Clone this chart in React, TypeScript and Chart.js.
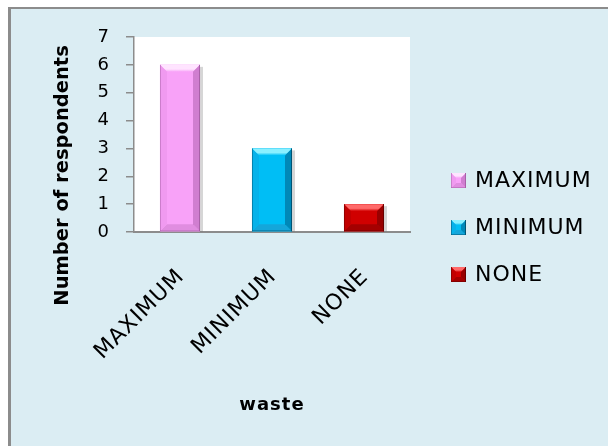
import React, { useEffect, useRef } from "react";
import { Chart, registerables } from "chart.js";

Chart.register(...registerables);

// Survey answers about waste
const categories = ["MAXIMUM", "MINIMUM", "NONE"];
const respondents = [6, 3, 1];
const yTickValues = [0, 1, 2, 3, 4, 5, 6, 7];
const xAxisTitle = "waste";
const yAxisTitle = "Number of respondents";

// Bevelled bar palette: face, lit top, shaded bottom, left side, right side, outline
const faceColors = ["#F8A2F8", "#00BEF5", "#D00000"];
const topColors = ["#FFE4FF", "#8AF0FF", "#FF6A6A"];
const bottomColors = ["#E08DE0", "#14A6DA", "#A40000"];
const leftColors = ["#F09AF0", "#06B2EA", "#C20000"];
const rightColors = ["#D07ED0", "#0088B8", "#980000"];
const edgeColors = ["#A860A8", "#005474", "#680000"];

const FONT = "'DejaVu Sans', sans-serif";
const SPACING = "1px";

function drawBevel(
  ctx: CanvasRenderingContext2D,
  L: number,
  T: number,
  R: number,
  B: number,
  b: number,
  i: number
) {
  const poly = (pts: number[][], color: string | CanvasGradient) => {
    ctx.beginPath();
    ctx.moveTo(pts[0][0], pts[0][1]);
    for (let k = 1; k < pts.length; k++) ctx.lineTo(pts[k][0], pts[k][1]);
    ctx.closePath();
    ctx.fillStyle = color;
    ctx.fill();
  };
  ctx.save();
  ctx.fillStyle = faceColors[i];
  ctx.fillRect(L, T, R - L, B - T);
  const g = ctx.createLinearGradient(0, T, 0, T + b);
  g.addColorStop(0, topColors[i]);
  g.addColorStop(0.6, topColors[i]);
  g.addColorStop(1, faceColors[i]);
  poly([[L, T], [R, T], [R - b, T + b], [L + b, T + b]], g);
  poly([[L, B], [R, B], [R - b, B - b], [L + b, B - b]], bottomColors[i]);
  poly([[L, T], [L + b, T + b], [L + b, B - b], [L, B]], leftColors[i]);
  poly([[R, T], [R - b, T + b], [R - b, B - b], [R, B]], rightColors[i]);
  ctx.strokeStyle = edgeColors[i];
  ctx.lineWidth = 1;
  ctx.beginPath();
  ctx.moveTo(R - 0.5, T);
  ctx.lineTo(R - 0.5, B);
  ctx.stroke();
  ctx.globalAlpha = 0.5;
  ctx.beginPath();
  ctx.moveTo(L + 0.5, T);
  ctx.lineTo(L + 0.5, B);
  ctx.moveTo(L, B - 0.5);
  ctx.lineTo(R, B - 0.5);
  ctx.stroke();
  ctx.restore();
}

// Slightly wider text tracking for the labels the chart measures and draws
const textTracking = {
  id: "textTracking",
  beforeUpdate(chart: any) {
    chart.ctx.letterSpacing = SPACING;
  },
  beforeDraw(chart: any) {
    chart.ctx.letterSpacing = SPACING;
  },
};

const plotBackground = {
  id: "plotBackground",
  beforeDraw(chart: any) {
    const { ctx, chartArea } = chart;
    ctx.save();
    ctx.fillStyle = "#FFFFFF";
    ctx.fillRect(chartArea.left, chartArea.top, chartArea.right - chartArea.left, chartArea.bottom - chartArea.top);
    ctx.restore();
  },
};

const bevelBars = {
  id: "bevelBars",
  afterDatasetsDraw(chart: any) {
    const { ctx } = chart;
    const meta = chart.getDatasetMeta(0);
    meta.data.forEach((bar: any, i: number) => {
      const { x, y, base, width } = bar.getProps(["x", "y", "base", "width"], true);
      const L = x - width / 2;
      const R = x + width / 2;
      // soft shadow on the right side of each bar
      ctx.save();
      ctx.fillStyle = "rgba(0,0,0,0.16)";
      ctx.fillRect(R, y + 2, 3, base - y - 2);
      ctx.restore();
      const b = Math.min(7, width / 4, (base - y) / 3);
      drawBevel(ctx, L, y, R, base, b, i);
    });
  },
};

const sideLegend = {
  id: "sideLegend",
  afterDraw(chart: any) {
    const { ctx, chartArea, height } = chart;
    const box = 15;
    const gap = 47;
    const x0 = chartArea.right + 41;
    const mid = height / 2;
    ctx.save();
    ctx.font = `22px ${FONT}`;
    ctx.letterSpacing = SPACING;
    ctx.textBaseline = "middle";
    ctx.textAlign = "left";
    categories.forEach((label, i) => {
      const cy = mid + (i - (categories.length - 1) / 2) * gap;
      drawBevel(ctx, x0, cy - box / 2, x0 + box, cy + box / 2, 5, i);
      ctx.fillStyle = "#000";
      ctx.fillText(label, x0 + box + 9, cy + 1);
    });
    ctx.restore();
  },
};

const sideTitle = {
  id: "sideTitle",
  afterDraw(chart: any) {
    const { ctx, chartArea } = chart;
    const cy = chartArea.top + (chartArea.bottom - chartArea.top) * 0.71;
    ctx.save();
    ctx.translate(52, cy);
    ctx.rotate(-Math.PI / 2);
    ctx.font = `bold 19.5px ${FONT}`;
    ctx.letterSpacing = "0px";
    ctx.fillStyle = "#000";
    ctx.textAlign = "center";
    ctx.textBaseline = "middle";
    ctx.fillText(yAxisTitle, 0, 0);
    ctx.restore();
  },
};

export default function App() {
  const canvasRef = useRef<HTMLCanvasElement | null>(null);

  useEffect(() => {
    if (!canvasRef.current) return;
    const chart = new Chart(canvasRef.current, {
      type: "bar",
      data: {
        labels: categories,
        datasets: [
          {
            label: yAxisTitle,
            data: respondents,
            backgroundColor: faceColors,
            borderWidth: 0,
            categoryPercentage: 1,
            barPercentage: 0.435,
          },
        ],
      },
      options: {
        responsive: false,
        animation: false,
        events: [],
        layout: { padding: { top: 28, right: 198, left: 0, bottom: 0 } },
        plugins: {
          legend: { display: false },
          tooltip: { enabled: false },
        },
        scales: {
          x: {
            grid: { display: false, drawTicks: false },
            border: { display: true, color: "#8C8C8C", width: 2 },
            ticks: {
              autoSkip: false,
              minRotation: 45,
              maxRotation: 45,
              padding: 32,
              labelOffset: 1,
              color: "#000",
              font: { family: FONT, size: 22 },
            },
            title: {
              display: true,
              text: xAxisTitle,
              color: "#000",
              font: { family: FONT, size: 18, weight: "bold" },
              padding: { top: 0, bottom: 30 },
            },
            afterFit(scale: any) {
              scale.height = 214;
            },
          },
          y: {
            min: 0,
            max: 7,
            afterBuildTicks(scale: any) {
              scale.ticks = yTickValues.map((v) => ({ value: v }));
            },
            grid: { drawOnChartArea: false, tickLength: 8, color: "#8C8C8C", lineWidth: 1.5 },
            border: { display: true, color: "#8C8C8C", width: 1.5 },
            ticks: {
              autoSkip: false,
              padding: 16,
              color: "#000",
              font: { family: FONT, size: 18 },
            },
            afterFit(scale: any) {
              scale.width = 123;
            },
          },
        },
      },
      plugins: [textTracking, plotBackground, bevelBars, sideLegend, sideTitle],
    });
    return () => chart.destroy();
  }, []);

  return (
    <div
      style={{
        position: "fixed",
        left: 8,
        top: 7,
        width: 600,
        height: 439,
        boxSizing: "border-box",
        borderTop: "2px solid #8C8C8C",
        borderLeft: "3px solid #8C8C8C",
        background: "#DBEDF3",
        overflow: "hidden",
      }}
    >
      <canvas ref={canvasRef} width={597} height={437} style={{ display: "block" }} />
    </div>
  );
}
